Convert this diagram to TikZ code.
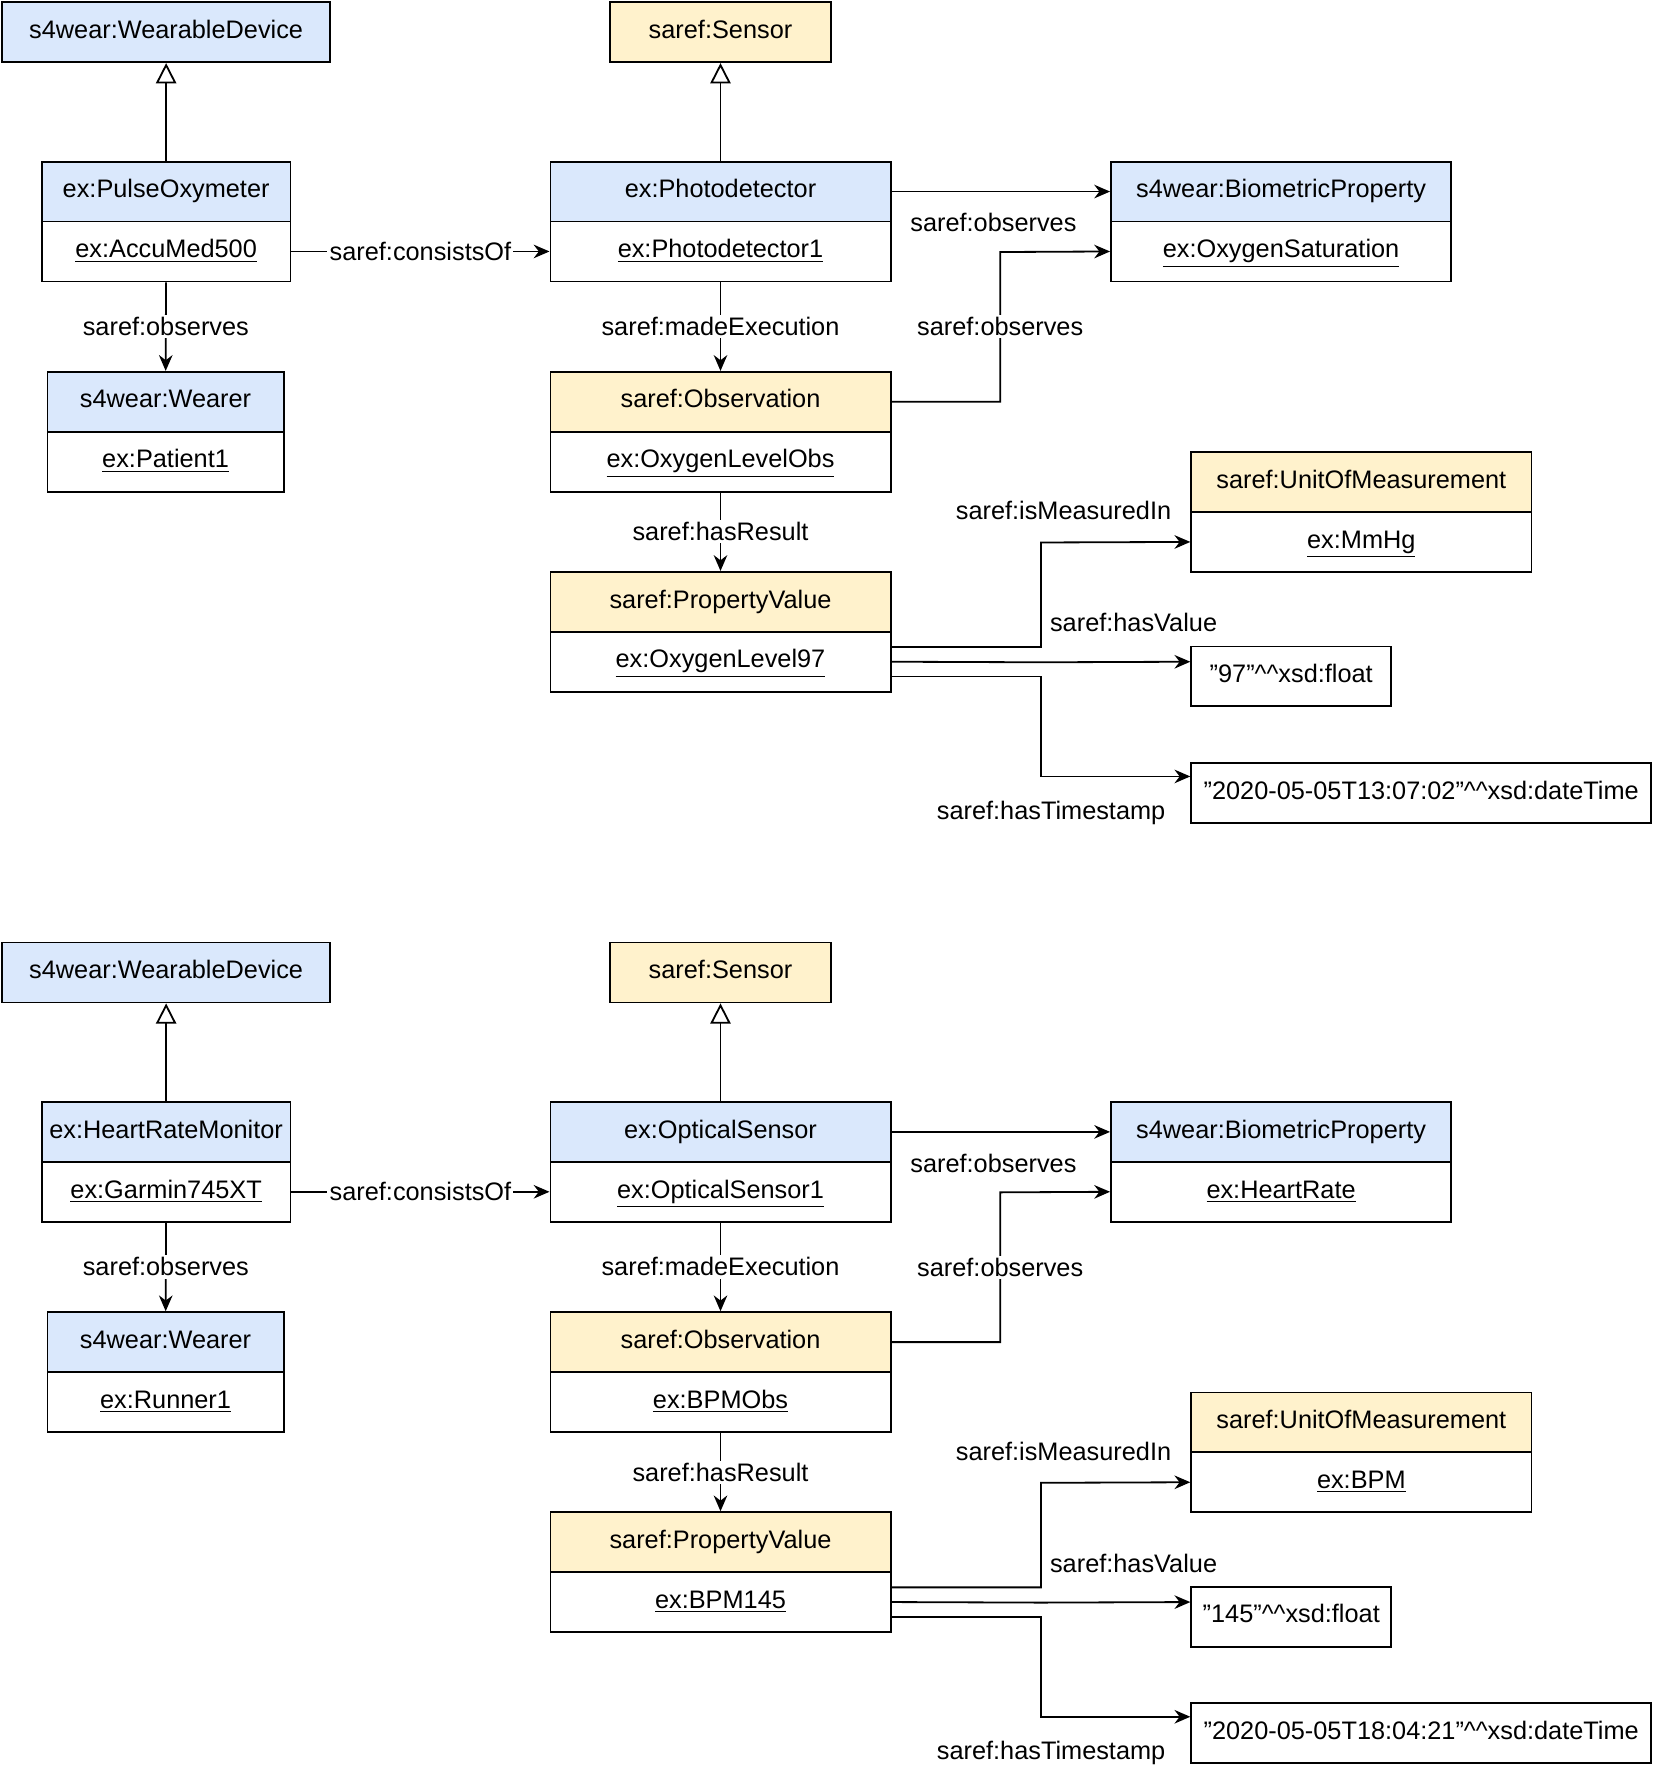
\documentclass[tikz,border=0pt]{standalone}
\usepackage{fontspec}
\setmainfont{Liberation Sans}
\usetikzlibrary{arrows.meta}
\definecolor{bl}{HTML}{DAE8FC}
\definecolor{yl}{HTML}{FFF2CC}
\tikzset{
 bx/.style={draw,line width=0.8pt,inner sep=0pt,text height=8pt,text depth=2.5pt,font=\fontsize{11.2}{13}\selectfont},
 ar/.style={line width=0.8pt,-{Stealth[length=7pt,width=6pt]}},
 inh/.style={line width=0.8pt,-{Triangle[open,length=9pt,width=9pt,fill=white]}},
 lb/.style={fill=white,inner sep=1pt,font=\fontsize{11.2}{13}\selectfont},
}
\newcommand\q{\symbol{34}}
% #1 name #2 x1 #3 y1 #4 x2 #5 y2 #6 fill #7 text
\newcommand\bxx[7]{\node[bx,fill=#6,minimum width={(#4-#2)*0.5pt},minimum height={(#5-#3)*0.5pt}] (#1) at ({(#2+#4)/2},{(#3+#5)/2}) {#7};}
\newcommand\diag[2]{%
\begin{scope}[yshift={-#1*0.5pt}]
\bxx{wd#2}{2}{2}{292}{55}{bl}{s4wear:WearableDevice}
\bxx{sen#2}{540}{2}{735}{55}{yl}{saref:Sensor}
\bxx{dev#2h}{37}{143}{257}{196}{bl}{\DevC}
\bxx{dev#2b}{37}{196}{257}{249}{white}{\underline{\DevI}}
\bxx{sn#2h}{487}{143}{788}{196}{bl}{\SenC}
\bxx{sn#2b}{487}{196}{788}{249}{white}{\underline{\SenI}}
\bxx{bp#2h}{983}{143}{1284}{196}{bl}{s4wear:BiometricProperty}
\bxx{bp#2b}{983}{196}{1284}{249}{white}{\underline{\Prop}}
\bxx{we#2h}{42}{329}{251}{382}{bl}{s4wear:Wearer}
\bxx{we#2b}{42}{382}{251}{435}{white}{\underline{\Wear}}
\bxx{ob#2h}{487}{329}{788}{382}{yl}{saref:Observation}
\bxx{ob#2b}{487}{382}{788}{435}{white}{\underline{\Obs}}
\bxx{um#2h}{1054}{400}{1355}{453}{yl}{saref:UnitOfMeasurement}
\bxx{um#2b}{1054}{453}{1355}{506}{white}{\underline{\Unit}}
\bxx{pv#2h}{487}{506}{788}{559}{yl}{saref:PropertyValue}
\bxx{pv#2b}{487}{559}{788}{612}{white}{\underline{\PV}}
\bxx{va#2}{1054}{572}{1231}{625}{white}{\Val}
\bxx{dt#2}{1054}{675}{1461}{728}{white}{\Date}
\draw[inh] (dev#2h) -- (wd#2);
\draw[inh] (sn#2h) -- (sen#2);
\draw[ar] (dev#2b) -- node[lb]{saref:consistsOf} (sn#2b);
\draw[ar] (dev#2b) -- node[lb]{saref:observes} (we#2h);
\draw[ar] (sn#2b) -- node[lb]{saref:madeExecution} (ob#2h);
\draw[ar] (sn#2h) -- (bp#2h);
\node[lb] at (879,197) {saref:observes};
\draw[ar] (ob#2h.east) -| (885,223) node[lb,pos=0.75]{saref:observes} -- (bp#2b.west);
\draw[ar] (ob#2b) -- node[lb]{saref:hasResult} (pv#2h);
\draw[ar] ([yshift=6.5pt]pv#2b.east) -| (921,480) -- (um#2b.west);
\node[lb] at (941,452) {saref:isMeasuredIn};
\draw[ar] (pv#2b.east) -- (921,586) -- ([yshift=6.5pt]va#2.west);
\node[lb] at (1003,551) {saref:hasValue};
\draw[ar] ([yshift=-6.5pt]pv#2b.east) -| (921,687) -- ([yshift=7.25pt]dt#2.west);
\node[lb] at (930,719) {saref:hasTimestamp};
\end{scope}}
\begin{document}
\begin{tikzpicture}[x=0.5pt,y=-0.5pt]
\useasboundingbox[fill=white] (0,0) rectangle (1463,1567);
\def\DevC{ex:PulseOxymeter}\def\DevI{ex:AccuMed500}\def\SenC{ex:Photodetector}\def\SenI{ex:Photodetector1}
\def\Prop{ex:OxygenSaturation}\def\Wear{ex:Patient1}\def\Obs{ex:OxygenLevelObs}\def\Unit{ex:MmHg}\def\PV{ex:OxygenLevel97}
\def\Val{\q97\q\^{}\^{}xsd:float}\def\Date{\q2020-05-05T13:07:02\q\^{}\^{}xsd:dateTime}
\diag{0}{a}
\def\DevC{ex:HeartRateMonitor}\def\DevI{ex:Garmin745XT}\def\SenC{ex:OpticalSensor}\def\SenI{ex:OpticalSensor1}
\def\Prop{ex:HeartRate}\def\Wear{ex:Runner1}\def\Obs{ex:BPMObs}\def\Unit{ex:BPM}\def\PV{ex:BPM145}
\def\Val{\q145\q\^{}\^{}xsd:float}\def\Date{\q2020-05-05T18:04:21\q\^{}\^{}xsd:dateTime}
\diag{832}{b}
\end{tikzpicture}
\end{document}
